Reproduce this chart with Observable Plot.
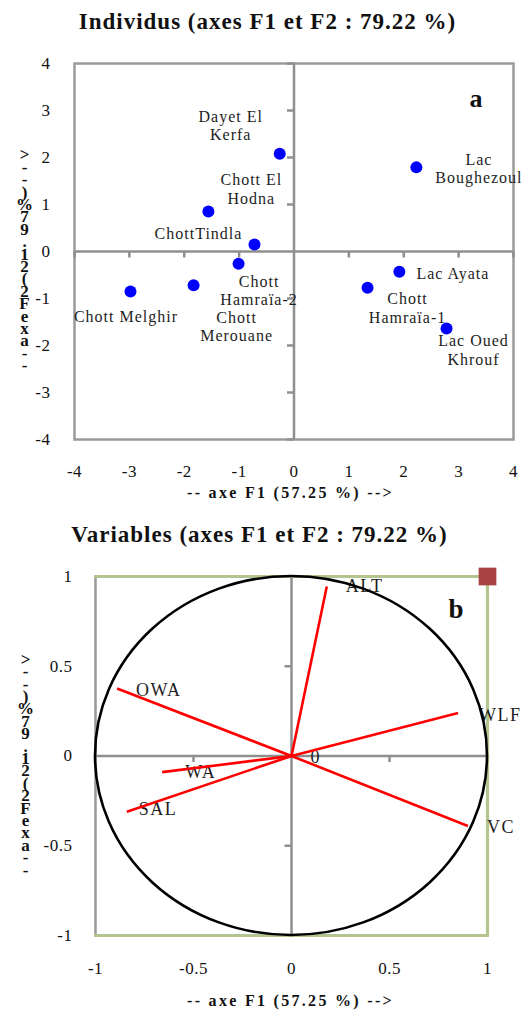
<!DOCTYPE html>
<html><head><meta charset="utf-8">
<script src="https://cdn.jsdelivr.net/npm/d3@7"></script>
<script src="https://cdn.jsdelivr.net/npm/@observablehq/plot@0.6"></script>
<style>
body{margin:0;background:#fff;}
#wrap{width:522px;}
.title{font-family:"Liberation Serif";font-weight:bold;font-size:23px;letter-spacing:1px;text-align:center;color:#111;white-space:nowrap;box-sizing:border-box;}
#ta{height:44px;line-height:44px;padding-left:13px;}
#tb{height:50px;line-height:50px;padding-right:3px;}
svg{display:block;overflow:hidden;}
</style></head><body><div id="wrap">
<div class="title" id="ta">Individus (axes F1 et F2 : 79.22 %)</div>
<div id="pa"></div>
<div class="title" id="tb">Variables (axes F1 et F2 : 79.22 %)</div>
<div id="pb"></div>
</div>
<script>
// ---------- Data: individuals (panel a) ----------
const sites = ["Dayet El Kerfa","Chott El Hodna","ChottTindla","Chott Hamraïa-2","Chott Merouane","Chott Melghir","Lac Boughezoul","Lac Ayata","Chott Hamraïa-1","Lac Oued Khrouf"];
const siteLabels = ["Dayet El\nKerfa","Chott El\nHodna","ChottTindla","Chott\nHamraïa-2","Chott\nMerouane","Chott Melghir","Lac\nBoughezoul","Lac Ayata","Chott\nHamraïa-1","Lac Oued\nKhrouf"];
const siteF1 = [-0.26,-1.56,-0.72,-1.01,-1.83,-2.98,2.23,1.92,1.34,2.78];
const siteF2 = [2.08,0.85,0.15,-0.26,-0.72,-0.85,1.79,-0.43,-0.77,-1.64];
const ticksA = [-4,-3,-2,-1,0,1,2,3,4];

// ---------- Data: variables (panel b) ----------
const variables = ["ALT","WLF","VC","OWA","WA","SAL"];
const varF1 = [0.18,0.85,0.90,-0.89,-0.66,-0.84];
const varF2 = [0.944,0.24,-0.39,0.376,-0.09,-0.31];
const ticksB = [-1,-0.5,0,0.5,1];
const boxX = [-1,1,1,-1];
const boxY = [1,1,-1,-1];

const xTitle = "-- axe F1 (57.25 %) -->";
const yTitle = "-- axe F2 (21.97 %) -->";

// ---------- label layout (pixel offsets) ----------
const siteLabelOffsets = [[-49,-28.5],[43,-23],[-56,-11],[20.5,26.5],[43,40.5],[-4.5,25],[62.5,0.5],[53.5,1],[40,20],[27,21]];
const varLabelOffsets = [[19,0],[21,2],[19,1],[19,2],[23,0],[12,-2]];

const FONT = "Liberation Serif";
const GRAY = "#8f8f8f";
// the y title is drawn as upright glyphs stacked from bottom to top
const stackStr = Array.from(yTitle).reverse().filter(c => c !== " ").join("");
const tickDown = {draw(c){ c.moveTo(0,0); c.lineTo(0,6); }};
const tickLeft = {draw(c){ c.moveTo(0,0); c.lineTo(-7,0); }};
const fmt = d => String(d);

function finish(svg, labelSet, labelLs) {
  d3.select(svg).selectAll("text").each(function() {
    const t = this.textContent;
    const g = this.parentNode && this.parentNode.getAttribute("aria-label");
    if (t === xTitle) this.setAttribute("letter-spacing", "2.3");
    else if (t === stackStr) {
      this.removeAttribute("dy");
      this.style.writingMode = "vertical-rl";
      this.style.textOrientation = "upright";
      this.setAttribute("letter-spacing", "-6.6");
    }
    else if (g && g.includes("tick label")) this.setAttribute("letter-spacing", "0.5");
    else if (labelSet.has(t.replace(/\n/g, ""))) this.setAttribute("letter-spacing", labelLs);
  });
}

// ---------- Panel a ----------
const idxA = sites.map((d,i)=>i);
const plotA = Plot.plot({
  width: 522, height: 466,
  marginTop: 19, marginBottom: 71, marginLeft: 74, marginRight: 9,
  x: {domain: [-4,4]}, y: {domain: [-4,4]},
  style: {fontFamily: FONT, fontSize: "17px", color: "#111", background: "white"},
  marks: [
    Plot.frame({stroke: "#9a9a9a", strokeWidth: 2.5}),
    Plot.ruleX([0], {stroke: GRAY, strokeWidth: 2.5}),
    Plot.ruleY([0], {stroke: GRAY, strokeWidth: 2.5}),
    Plot.dot(ticksA.filter(d => d !== 0), {x: d => d, y: 0, symbol: tickDown, fill: "none", stroke: GRAY, strokeWidth: 2.5}),
    Plot.dot(ticksA.filter(d => d !== 0), {x: 0, y: d => d, symbol: tickLeft, fill: "none", stroke: GRAY, strokeWidth: 2.5}),
    Plot.axisX({ticks: ticksA, tickSize: 0, tickPadding: 25, tickFormat: fmt, fontSize: 17, label: null}),
    Plot.axisY({ticks: ticksA, tickSize: 0, tickPadding: 24, tickFormat: fmt, fontSize: 17, label: null}),
    Plot.text([xTitle], {frameAnchor: "bottom", dx: -3.5, dy: 58, text: d => d, fontWeight: "bold", fontSize: 16, fill: "#111"}),
    Plot.text([stackStr], {frameAnchor: "left", dx: -50, text: d => d, fontWeight: "bold", fontSize: 17, textAnchor: "middle", fill: "#111"}),
    Plot.dot(idxA, {x: i => siteF1[i], y: i => siteF2[i], r: 6, fill: "#0000ff"}),
    ...idxA.map(i => Plot.text([i], {x: i => siteF1[i], y: i => siteF2[i], text: i => siteLabels[i], dx: siteLabelOffsets[i][0], dy: siteLabelOffsets[i][1], fontSize: 16, lineHeight: 1.15, fill: "#1e1e1e"})),
    Plot.text(["a"], {frameAnchor: "top-right", dx: -31, dy: 25, text: d => d, fontWeight: "bold", fontSize: 26, fill: "#111"})
  ]
});
document.getElementById("pa").appendChild(plotA);
finish(plotA, new Set(siteLabels.map(s => s.replace(/\n/g, ""))), "1");

// ---------- Panel b ----------
const idxB = variables.map((d,i)=>i);
const circle = (index, scales) => {
  const {x, y} = scales;
  return d3.create("svg:ellipse")
    .attr("cx", x(0)).attr("cy", y(0))
    .attr("rx", x(1) - x(0)).attr("ry", y(0) - y(1))
    .attr("fill", "none").attr("stroke", "#000").attr("stroke-width", 2.6)
    .node();
};
const plotB = Plot.plot({
  width: 522, height: 455,
  marginTop: 16, marginBottom: 80, marginLeft: 95, marginRight: 35,
  x: {domain: [-1,1]}, y: {domain: [-1,1]},
  style: {fontFamily: FONT, fontSize: "17px", color: "#111", background: "white"},
  marks: [
    Plot.frame({stroke: "#9a9a9a", strokeWidth: 2.5}),
    Plot.ruleX([0], {stroke: GRAY, strokeWidth: 2.5}),
    Plot.ruleY([0], {stroke: GRAY, strokeWidth: 2.5}),
    Plot.dot(ticksB.filter(d => Math.abs(d) === 0.5), {x: d => d, y: 0, symbol: tickDown, fill: "none", stroke: GRAY, strokeWidth: 2.5}),
    Plot.dot(ticksB.filter(d => Math.abs(d) === 0.5), {x: 0, y: d => d, symbol: tickLeft, fill: "none", stroke: GRAY, strokeWidth: 2.5}),
    Plot.axisX({ticks: ticksB, tickSize: 0, tickPadding: 26, tickFormat: fmt, fontSize: 17, label: null}),
    Plot.axisY({ticks: ticksB, tickSize: 0, tickPadding: 23, tickFormat: fmt, fontSize: 17, label: null}),
    Plot.text([xTitle], {frameAnchor: "bottom", dx: -1, dy: 70, text: d => d, fontWeight: "bold", fontSize: 16, fill: "#111"}),
    Plot.text([stackStr], {frameAnchor: "left", dx: -70, text: d => d, fontWeight: "bold", fontSize: 17, textAnchor: "middle", fill: "#111"}),
    Plot.line(boxX.map((d,i)=>i), {x: i => boxX[i], y: i => boxY[i], stroke: "#b4c58f", strokeWidth: 3.2}),
    ...idxB.map(i => Plot.text([i], {x: i => varF1[i], y: i => varF2[i], text: i => variables[i], dx: varLabelOffsets[i][0], dy: varLabelOffsets[i][1], textAnchor: "start", fontSize: 18, fill: "#1e1e1e"})),
    Plot.text(["0"], {x: 0, y: 0, text: d => d, dx: 19, dy: 1, textAnchor: "start", fontSize: 18, fill: "#1e1e1e"}),
    Plot.link(idxB, {x1: 0, y1: 0, x2: i => varF1[i], y2: i => varF2[i], stroke: "#ff0000", strokeWidth: 2.6}),
    circle,
    Plot.dot([1], {x: i => boxX[i], y: i => boxY[i], symbol: "square", r: 10, fill: "#a84343", stroke: "none"}),
    Plot.text(["b"], {frameAnchor: "top-right", dx: -24, dy: 22, text: d => d, fontWeight: "bold", fontSize: 27, fill: "#111"})
  ]
});
document.getElementById("pb").appendChild(plotB);
finish(plotB, new Set(variables), "1.5");
</script>
</body></html>
